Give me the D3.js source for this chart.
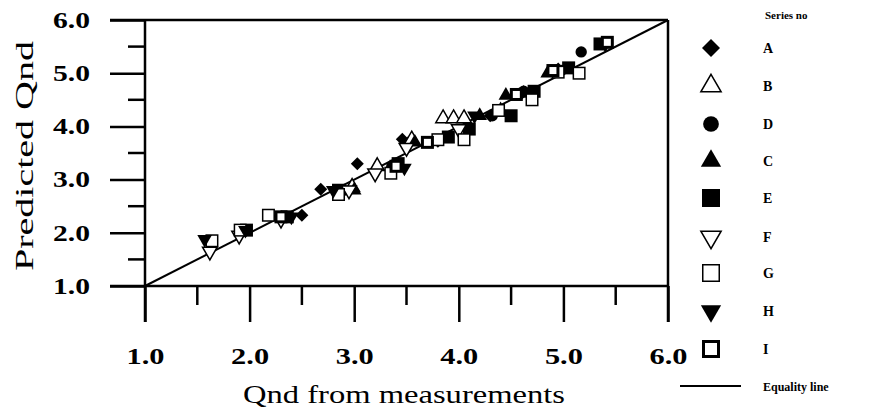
<!DOCTYPE html>
<meta charset="utf-8">
<script src="https://d3js.org/d3.v7.min.js"></script>
<style>
  body { margin: 0; background: #fff; }
  text { font-family: "Liberation Serif", "DejaVu Serif", serif; }
</style>
<div id="chart"></div>
<script>

// measured vs predicted Qnd, one small list per series
var seriesA = [[2.50,2.33],[2.68,2.82],[3.03,3.30],[3.46,3.76],[3.80,3.72],[4.30,4.20],[4.60,4.62],[2.30,2.30],[3.52,3.70],[4.95,5.08]];
var seriesB = [[3.85,4.15],[3.95,4.15],[4.05,4.15],[3.55,3.75],[3.22,3.25],[2.98,2.86],[4.40,4.28]];
var seriesD = [[5.17,5.40],[4.98,5.05],[4.62,4.66],[4.32,4.20],[3.72,3.70],[2.36,2.30],[3.36,3.25],[2.90,2.80]];
var seriesC = [[4.85,5.00],[4.62,4.62],[4.45,4.58],[3.00,2.80],[4.20,4.20],[3.58,3.70]];
var seriesE = [[5.35,5.55],[1.97,2.05],[2.36,2.30],[2.85,2.80],[3.42,3.30],[3.90,3.80],[4.50,4.20],[4.72,4.66],[5.05,5.10],[4.10,3.95]];
var seriesF = [[1.62,1.65],[1.90,1.95],[2.30,2.25],[2.95,2.80],[3.50,3.60],[4.00,3.95],[3.20,3.12]];
var seriesG = [[1.64,1.85],[1.91,2.05],[2.18,2.33],[2.85,2.72],[3.35,3.12],[3.80,3.75],[4.05,3.75],[4.38,4.30],[4.70,4.50],[4.95,5.02],[5.15,5.00]];
var seriesH = [[1.57,1.88],[1.96,2.05],[2.40,2.30],[3.48,3.22],[4.15,4.20],[5.40,5.55],[2.80,2.80]];
var seriesI = [[5.42,5.58],[4.55,4.60],[3.40,3.25],[2.30,2.30],[4.90,5.05],[3.70,3.70]];

var seriesNames = ["A", "B", "D", "C", "E", "F", "G", "H", "I"];
var seriesData = [seriesA, seriesB, seriesD, seriesC, seriesE, seriesF, seriesG, seriesH, seriesI];
var seriesShape = ["diamond", "triOpen", "circle", "tri", "square", "triDownOpen", "squareOpen", "triDown", "squareHole"];

var majorTicks = [1, 2, 3, 4, 5, 6];
var minorTicks = [1.5, 2.5, 3.5, 4.5, 5.5];

var width = 871, height = 415;
var x = d3.scaleLinear().domain([1, 6]).range([145, 668]);
var y = d3.scaleLinear().domain([1, 6]).range([286, 20]);

var svg = d3.select("#chart").append("svg")
  .attr("width", width)
  .attr("height", height);

// frame with its long ticks
var frame = svg.append("g").attr("stroke", "#000").attr("stroke-width", 2.5);
frame.append("line").attr("x1", x(1)).attr("x2", x(1)).attr("y1", y(6)).attr("y2", 322);
frame.append("line").attr("x1", 110).attr("x2", x(6)).attr("y1", y(1)).attr("y2", y(1));
frame.append("line").attr("x1", 110).attr("x2", x(6)).attr("y1", y(6)).attr("y2", y(6));
frame.append("line").attr("x1", x(6)).attr("x2", x(6)).attr("y1", y(6)).attr("y2", 322);

// the scan is stretched sideways, so labels get widened glyphs
function wideLabels(sel, w) {
  sel.style("font-size", "23px").style("font-weight", "bold")
    .style("font-family", "Liberation Serif")
    .attr("textLength", w).attr("lengthAdjust", "spacingAndGlyphs");
}

// y axis
var yAxis = svg.append("g")
  .attr("transform", "translate(" + x(1) + ",0)")
  .call(d3.axisLeft(y).tickValues(majorTicks).tickSize(35).tickPadding(20).tickFormat(d3.format(".1f")));
yAxis.select(".domain").remove();
yAxis.selectAll("line").attr("stroke-width", 2.5);
wideLabels(yAxis.selectAll("text"), 37);

svg.append("g").selectAll("line").data(minorTicks).join("line")
  .attr("x1", 128).attr("x2", x(1))
  .attr("y1", d => y(d)).attr("y2", d => y(d))
  .attr("stroke", "#000").attr("stroke-width", 2.5);

// x axis
var xAxis = svg.append("g")
  .attr("transform", "translate(0," + y(1) + ")")
  .call(d3.axisBottom(x).tickValues(majorTicks).tickSize(36).tickPadding(26).tickFormat(d3.format(".1f")));
xAxis.select(".domain").remove();
xAxis.selectAll("line").attr("stroke-width", 2.5);
wideLabels(xAxis.selectAll("text"), 38);

svg.append("g").selectAll("line").data(minorTicks).join("line")
  .attr("x1", d => x(d)).attr("x2", d => x(d))
  .attr("y1", y(1)).attr("y2", 305)
  .attr("stroke", "#000").attr("stroke-width", 2.5);

// axis titles
svg.append("text")
  .attr("transform", "translate(33," + 156 + ") rotate(-90)")
  .attr("text-anchor", "middle")
  .style("font-size", "26px")
  .attr("textLength", 230).attr("lengthAdjust", "spacingAndGlyphs")
  .text("Predicted Qnd");

svg.append("text")
  .attr("x", 404).attr("y", 403)
  .attr("text-anchor", "middle")
  .style("font-size", "26px")
  .attr("textLength", 322).attr("lengthAdjust", "spacingAndGlyphs")
  .text("Qnd from measurements");

// equality line
svg.append("line")
  .attr("x1", x(1)).attr("y1", y(1))
  .attr("x2", x(6)).attr("y2", y(6))
  .attr("stroke", "#000").attr("stroke-width", 2);

// marker drawing
function drawMarker(g, shape, s) {
  var sym = d3.symbol().size(s * s * 0.55);
  if (shape == "diamond") {
    g.append("path").attr("d", d3.symbol().type(d3.symbolSquare).size(s * s * 0.5)())
      .attr("transform", "rotate(45)").attr("fill", "#000");
  } else if (shape == "circle") {
    g.append("path").attr("d", d3.symbol().type(d3.symbolCircle).size(s * s * 0.6)()).attr("fill", "#000");
  } else if (shape == "tri" || shape == "triOpen" || shape == "triDown" || shape == "triDownOpen") {
    var open = shape.indexOf("Open") > 0;
    g.append("path").attr("d", sym.type(d3.symbolTriangle)())
      .attr("transform", shape.indexOf("Down") > 0 ? "rotate(180)" : null)
      .attr("fill", open ? "#fff" : "#000")
      .attr("stroke", "#000").attr("stroke-width", open ? 1.5 : 0);
  } else if (shape == "square") {
    g.append("rect").attr("x", -s / 2).attr("y", -s / 2).attr("width", s).attr("height", s).attr("fill", "#000");
  } else if (shape == "squareOpen") {
    g.append("rect").attr("x", -s / 2 + 0.75).attr("y", -s / 2 + 0.75).attr("width", s - 1.5).attr("height", s - 1.5)
      .attr("fill", "#fff").attr("stroke", "#000").attr("stroke-width", 1.5);
  } else {
    g.append("rect").attr("x", -s / 2 + 1.5).attr("y", -s / 2 + 1.5).attr("width", s - 3).attr("height", s - 3)
      .attr("fill", "#fff").attr("stroke", "#000").attr("stroke-width", 3);
  }
}

// scatter
var points = svg.append("g");
seriesData.forEach(function(data, i) {
  data.forEach(function(d) {
    var g = points.append("g").attr("transform", "translate(" + x(d[0]) + "," + y(d[1]) + ")");
    drawMarker(g, seriesShape[i], 13);
  });
});

// legend
var legend = svg.append("g");
legend.append("text").attr("x", 765).attr("y", 19)
  .style("font-size", "11px").style("font-weight", "bold").text("Series no");

var rowY = [48, 86, 124, 161, 198, 237, 273, 311, 349];
seriesNames.forEach(function(name, i) {
  var g = legend.append("g").attr("transform", "translate(711," + rowY[i] + ")");
  drawMarker(g, seriesShape[i], 18);
  legend.append("text").attr("x", 763).attr("y", rowY[i] + 5)
    .style("font-size", "14px").style("font-weight", "bold").text(name);
});
legend.append("line").attr("x1", 680).attr("x2", 741).attr("y1", 386).attr("y2", 386)
  .attr("stroke", "#000").attr("stroke-width", 1.8);
legend.append("text").attr("x", 763).attr("y", 391)
  .style("font-size", "12px").style("font-weight", "bold").text("Equality line");

</script>
